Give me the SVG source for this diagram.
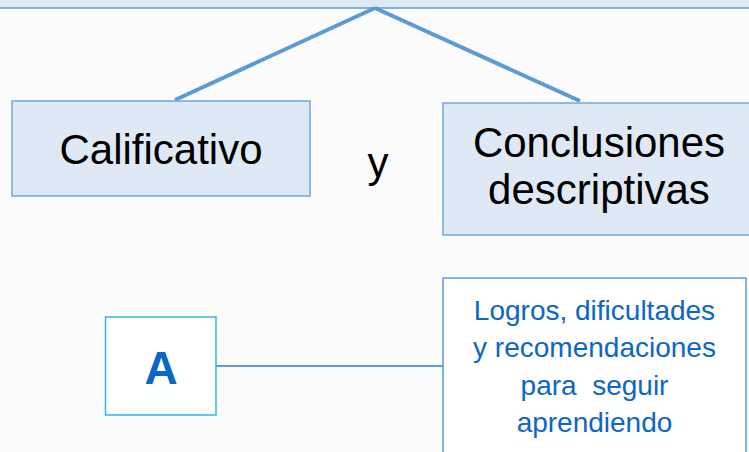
<svg xmlns="http://www.w3.org/2000/svg" width="749" height="452" viewBox="0 0 749 452">
  <style>
    .box { fill: #dee9f5; stroke: #6fa6db; stroke-width: 1.5; }
    .big { font-family: "Liberation Sans", Arial, sans-serif; font-size: 42px; fill: #000; text-anchor: middle; }
    .blue { font-family: "Liberation Sans", Arial, sans-serif; font-size: 28px; fill: #0b66c8; text-anchor: middle; }
    .conn { stroke: #5b9bd5; fill: none; }
  </style>
  <rect x="0" y="0" width="749" height="452" fill="#fcfcfc"/>
  <g id="top-band">
    <rect x="-2" y="-2" width="753" height="10" fill="#dde9f5" stroke="#5b9bd5" stroke-width="1.5"/>
  </g>
  <g id="connectors">
    <line class="conn" x1="375" y1="8" x2="175" y2="100" stroke-width="4"/>
    <line class="conn" x1="375" y1="8" x2="580" y2="101" stroke-width="4"/>
    <line x1="216" y1="366" x2="443" y2="366" stroke="#2a7bd0" stroke-width="1.5"/>
  </g>
  <g id="calificativo">
    <rect class="box" x="12" y="101" width="298" height="95"/>
    <text class="big" x="161" y="164">Calificativo</text>
  </g>
  <g id="y-label">
    <text class="big" x="378" y="177">y</text>
  </g>
  <g id="conclusiones">
    <rect class="box" x="443" y="103" width="310" height="132"/>
    <text class="big" x="599" y="157">Conclusiones</text>
    <text class="big" x="599" y="204">descriptivas</text>
  </g>
  <g id="a-node">
    <rect x="105.5" y="317" width="110.5" height="98" fill="#ffffff" stroke="#36b4ea" stroke-width="1.5"/>
    <text x="161" y="384" font-family="Liberation Sans, Arial, sans-serif" font-size="46" font-weight="bold" fill="#0b66c8" text-anchor="middle">A</text>
  </g>
  <g id="logros">
    <rect x="443" y="278" width="303" height="180" fill="#ffffff" stroke="#5b9bd5" stroke-width="1.5"/>
    <text class="blue" x="594.5" y="320">Logros, dificultades</text>
    <text class="blue" x="594.5" y="357">y recomendaciones</text>
    <text class="blue" x="594.5" y="395" xml:space="preserve">para  seguir</text>
    <text class="blue" x="594.5" y="432">aprendiendo</text>
  </g>
</svg>
